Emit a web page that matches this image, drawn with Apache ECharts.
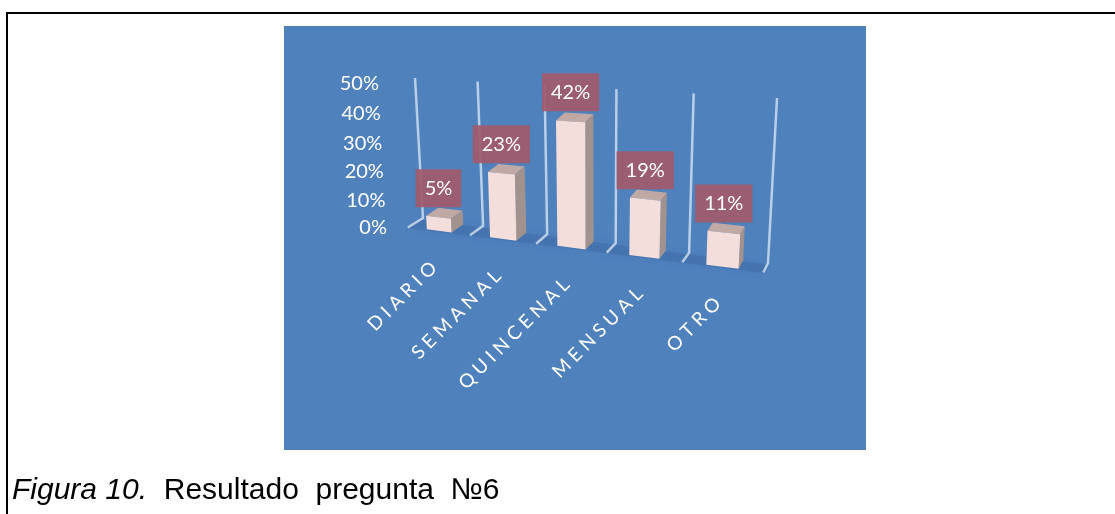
<!DOCTYPE html>
<html>
<head>
<meta charset="utf-8">
<style>html,body{margin:0;padding:0;background:#fff}#chart{width:1115px;height:514px}</style>
<script src="https://cdn.jsdelivr.net/npm/echarts@6/dist/echarts.min.js"></script>
</head>
<body>
<div id="chart"></div>
<script>
const categories = ['DIARIO', 'SEMANAL', 'QUINCENAL', 'MENSUAL', 'OTRO'];
const percentages = [5, 23, 42, 19, 11];
const percentTicks = [0, 10, 20, 30, 40, 50];

// Corners of the back wall on screen: floor-left, floor-right, top-right, top-left.
const wallQuad = [[423, 218], [768, 263], [777, 98], [415, 78]];
const BAR_HALF = 0.04, DEPTH_FRONT = 0.9, DEPTH_BACK = 0.1;

// Unit square to quadrilateral homography for the perspective of the wall.
function buildHomography(q) {
  const [[x0, y0], [x1, y1], [x2, y2], [x3, y3]] = q;
  const dx1 = x1 - x2, dx2 = x3 - x2, sx = x0 - x1 + x2 - x3;
  const dy1 = y1 - y2, dy2 = y3 - y2, sy = y0 - y1 + y2 - y3;
  const det = dx1 * dy2 - dx2 * dy1;
  const g = (sx * dy2 - dx2 * sy) / det, h = (dx1 * sy - sx * dy1) / det;
  return [x1 - x0 + g * x1, x3 - x0 + h * x3, x0, y1 - y0 + g * y1, y3 - y0 + h * y3, y0, g, h];
}
const H = buildHomography(wallQuad);

// u: along the floor, v: up the wall, d: toward the viewer.
function project(u, v, d) {
  const w = H[6] * u + H[7] * v + 1;
  const x = (H[0] * u + H[1] * v + H[2]) / w;
  const y = (H[3] * u + H[4] * v + H[5]) / w;
  return [x + d * (-16 + 11 * u), y + d * 10];
}
function normalised(api, params, cat, val) {
  const p = api.coord([cat, val]), r = params.coordSys;
  return [(p[0] - r.x) / r.width, (r.y + r.height - p[1]) / r.height];
}
function poly(points, fill, extra) {
  return { type: 'polygon', shape: { points }, style: Object.assign({ fill }, extra || {}) };
}

function renderFloor() {
  return poly([project(0, 0, 0.15), project(1, 0, 0.15), project(1, 0, 1), project(0, 0, 1)],
    'rgba(52,92,150,0.3)', { shadowBlur: 6, shadowColor: 'rgba(52,92,150,0.3)' });
}

function renderWalls(params, api) {
  const i = api.value(0), n = categories.length;
  const lines = [i / n];
  if (i === n - 1) lines.push(1);
  return {
    type: 'group',
    children: lines.map(u => ({
      type: 'polyline',
      shape: { points: [project(u, 1, 0), project(u, 0, 0), project(u, 0, 0.95)] },
      style: { fill: null, stroke: 'rgba(226,236,247,0.72)', lineWidth: 2.5 }
    }))
  };
}

function renderBars(params, api) {
  const i = api.value(0), val = api.value(1);
  const [uc, v] = normalised(api, params, i, val);
  const a = uc - BAR_HALF, b = uc + BAR_HALF;
  const f = DEPTH_FRONT, k = DEPTH_BACK;
  return {
    type: 'group',
    children: [
      poly([project(a, v, f), project(b, v, f), project(b, v, k), project(a, v, k)], '#c0a9a5'),
      poly([project(b, 0, f), project(b, v, f), project(b, v, k), project(b, 0, k)], '#a2928e'),
      poly([project(a, 0, f), project(b, 0, f), project(b, v, f), project(a, v, f)], '#f3dedb')
    ]
  };
}

function renderValueBoxes(params, api) {
  const i = api.value(0), val = api.value(1);
  const [uc, v] = normalised(api, params, i, val);
  const p = project(uc, v, DEPTH_FRONT);
  return {
    type: 'text',
    x: p[0], y: p[1] - 29,
    style: {
      text: val + '%', fill: '#fff', font: '20px Lato',
      align: 'center', verticalAlign: 'middle',
      backgroundColor: 'rgba(160,90,106,0.93)', padding: [9, 9]
    }
  };
}

function renderCategoryLabels(params, api) {
  const i = api.value(0);
  const [uc] = normalised(api, params, i, 0);
  const p = project(uc, 0, 1);
  return {
    type: 'text',
    x: p[0] - 4, y: p[1] + 33,
    rotation: Math.PI / 4,
    style: {
      text: categories[i].split('').join('\u2005'), fill: '#fff', font: '19px Lato',
      align: 'right', verticalAlign: 'middle'
    }
  };
}

function renderTickLabels(params, api) {
  const t = api.value(1);
  const [, v] = normalised(api, params, 0, t);
  const p = project(0, v, 1);
  return {
    type: 'text',
    x: p[0] - 20, y: p[1] - 4 * v,
    style: { text: t + '%', fill: '#fff', font: '20px Lato', align: 'right', verticalAlign: 'middle' }
  };
}

const categoryRows = categories.map((c, i) => [i, percentages[i]]);
const tickRows = percentTicks.map(t => [0, t]);

const chart = echarts.init(document.getElementById('chart'), null, { renderer: 'canvas' });
chart.setOption({
  animation: false,
  backgroundColor: '#fff',
  grid: { left: 423, top: 78, width: 345, height: 140 },
  xAxis: { type: 'category', data: categories, show: false },
  yAxis: { type: 'value', min: 0, max: 50, interval: 10, show: false },
  graphic: [
    { type: 'rect', z: 0, shape: { x: 284, y: 26, width: 582, height: 424 }, style: { fill: '#4f81bd' } },
    { type: 'polyline', z: 1, shape: { points: [[7, 514], [7, 13], [1115, 13]] },
      style: { fill: null, stroke: '#000', lineWidth: 2 } },
    { type: 'text', z: 1, x: 12, y: 491,
      style: {
        text: '{i|Figura 10.}  Resultado  pregunta  №6',
        verticalAlign: 'middle',
        rich: {
          i: { font: 'italic 30px "Liberation Sans"', fill: '#000' }
        },
        font: '30px "Liberation Sans"', fill: '#000'
      } }
  ],
  series: [
    { type: 'custom', z: 2, silent: true, data: [[0, 0]], renderItem: renderFloor },
    { type: 'custom', z: 3, silent: true, data: categoryRows, renderItem: renderWalls },
    { type: 'custom', z: 4, silent: true, data: categoryRows, renderItem: renderBars },
    { type: 'custom', z: 5, silent: true, data: categoryRows, renderItem: renderValueBoxes },
    { type: 'custom', z: 5, silent: true, data: categoryRows, renderItem: renderCategoryLabels },
    { type: 'custom', z: 5, silent: true, data: tickRows, renderItem: renderTickLabels }
  ]
});
</script>
</body>
</html>
